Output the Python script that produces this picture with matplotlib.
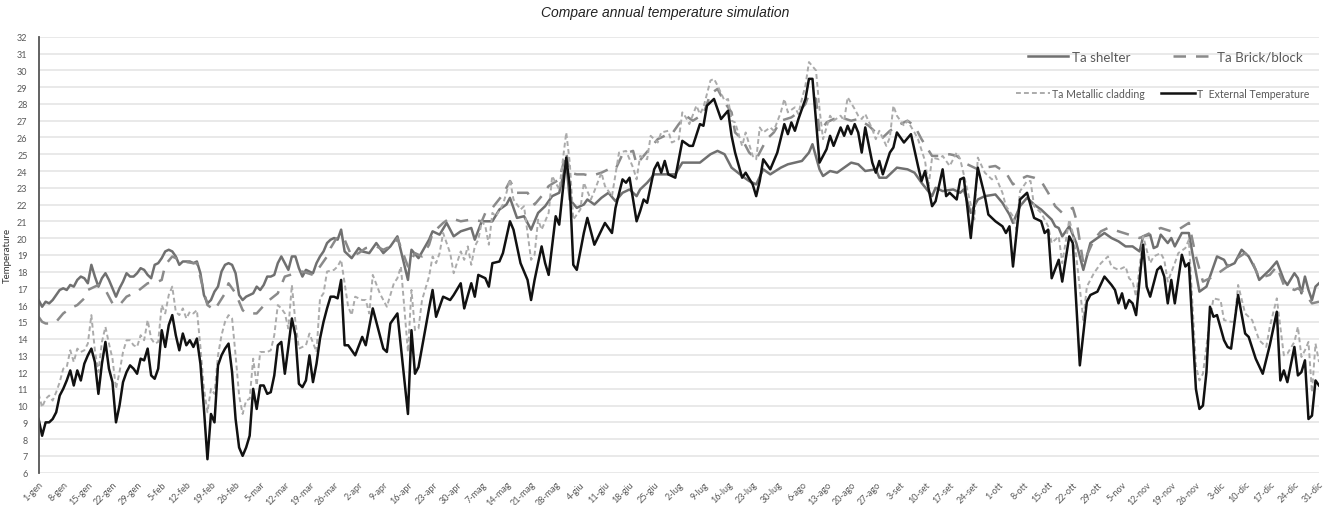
import matplotlib
matplotlib.use("Agg")
import matplotlib.pyplot as plt
from matplotlib.legend import Legend

# ---- data (day of year, 0 = 1 gen) ----
ext_day = [0, 1, 2, 3, 4, 5, 6, 7, 8, 9, 10, 11, 12, 13, 14, 15, 16, 17, 18, 19, 20, 21, 22, 23, 24, 25, 26, 27, 28, 29,
           30, 31, 32, 33, 34, 35, 36, 37, 38, 39, 40, 41, 42, 43, 44, 45, 46, 47, 48, 49, 50, 51, 52, 53, 54, 55, 56, 57, 58, 59,
           60, 61, 62, 63, 64, 65, 66, 67, 68, 69, 70, 71, 72, 73, 74, 75, 76, 77, 78, 79, 80, 81, 82, 83, 84, 85, 86, 87, 88,
           90, 92, 93, 95, 98, 99, 100, 102, 105, 106, 107, 108, 111, 112, 113, 115, 117, 118, 120, 121, 123, 124, 125, 127, 128,
           129, 131, 132, 134, 135, 137, 139, 140, 141, 143, 144, 145, 147, 148, 150, 151, 152, 153, 155, 156, 158, 161, 163, 164,
           166, 167, 168, 170, 171, 172, 173, 175, 176, 177, 178, 179, 181, 183, 185, 186, 188, 189, 190, 192, 194, 196, 197, 198,
           200, 201, 203, 204, 205, 206, 208, 210, 212, 213, 214, 215, 216, 217, 218, 219, 220, 222, 224, 225, 226, 228, 229, 230,
           231, 232, 233, 234, 235, 237, 238, 239, 240, 242, 243, 244, 246, 248, 250, 251, 252, 254, 255, 257, 258, 259, 261, 262,
           263, 264, 265, 267, 269, 270, 272, 274, 275, 276, 277, 279, 281, 283, 285, 286, 287, 288, 290, 291, 293, 294, 296, 298,
           299, 301, 303, 305, 306, 307, 308, 309, 310, 311, 312, 314, 315, 316, 318, 319, 320, 321, 322, 323, 325, 326, 327, 329,
           330, 331, 332, 333, 334, 335, 337, 338, 339, 341, 343, 344, 346, 348, 350, 352, 353, 354, 355, 357, 358, 359, 360, 361,
           362, 363, 364]
ext_val = [9.2, 8.2, 9.0, 9.0, 9.2, 9.6, 10.6, 11.0, 11.5, 12.1, 11.2, 12.1, 11.5, 12.5, 13.0, 13.4, 12.6, 10.7, 12.5, 13.8,
           12.2, 11.4, 9.0, 10.0, 11.4, 12.0, 12.4, 12.2, 11.9, 12.8, 12.7, 13.4, 11.8, 11.6, 12.2, 14.5, 13.5, 14.8, 15.4, 14.2,
           13.3, 14.3, 13.6, 13.9, 13.5, 14.0, 12.5, 9.8, 6.8, 9.5, 9.0, 12.4, 13.0, 13.4, 13.7, 12.0, 9.2, 7.5, 7.0, 7.5,
           8.2, 11.0, 9.8, 11.2, 11.2, 10.7, 10.8, 11.8, 13.6, 13.8, 11.9, 13.5, 15.2, 14.2, 11.3, 11.1, 11.5, 13.0, 11.4, 12.5,
           14.0, 15.0, 15.8, 16.5, 16.5, 16.4, 17.5, 13.6, 13.6,
           13.0, 14.1, 13.6, 15.8, 13.4, 13.2, 14.9, 15.5, 9.5, 14.5, 11.9, 12.3, 15.8, 16.9, 15.3, 16.5, 16.3, 16.6, 17.3, 15.8,
           17.3, 16.5, 17.8, 17.6, 17.1, 18.5, 18.6, 19.1, 21.0, 20.5, 18.5, 17.5, 16.3, 17.5, 19.5, 18.5, 17.8, 21.3, 20.8, 24.8,
           23.1, 18.4, 18.1, 20.3, 21.2, 19.6, 20.9, 20.3, 21.8, 23.5, 23.3, 23.6, 21.0, 21.6, 22.3, 22.1, 24.1, 24.5, 23.9, 24.6,
           23.8, 23.6, 25.8, 25.5, 25.5, 26.8, 26.7, 27.9, 28.3, 27.1, 27.6, 26.1, 25.1, 23.6, 23.9, 23.2, 22.5, 23.4, 24.7, 24.1,
           25.1, 26.8, 26.2, 26.9, 26.4, 27.1, 27.7, 28.3, 29.5, 29.5, 24.5, 25.3, 26.1, 25.5, 26.6, 26.1, 26.7, 26.2, 26.8, 26.3,
           25.1, 26.6, 24.5, 23.9, 24.6, 23.8, 25.1, 25.4, 26.3, 25.7, 26.2, 24.3, 23.4, 24.0, 21.9, 22.2, 24.1, 22.5, 22.7, 22.3,
           23.5, 23.6, 21.9, 20.0, 24.2, 22.5, 21.4, 21.0, 20.7, 20.3, 20.7, 18.3, 22.3, 22.7, 21.2, 21.0, 20.3, 20.5, 17.6, 18.7,
           17.4, 20.1, 19.7, 12.4, 16.2, 16.6, 16.8, 17.7, 17.2, 16.9, 16.1, 16.7, 15.8, 16.3, 16.1, 15.4, 19.6, 17.1, 16.5, 18.1,
           18.3, 17.7, 16.1, 17.5, 16.1, 19.0, 18.3, 18.5, 11.0, 9.8, 10.0, 12.0, 15.9, 15.3, 15.4, 13.9, 13.5, 13.4, 16.6, 14.3,
           14.1, 12.8, 11.9, 13.6, 15.6, 11.5, 12.1, 11.4, 13.5, 11.8, 12.0, 12.7, 9.2, 9.4, 11.5, 11.2]

she_day = [0, 1, 2, 3, 4, 5, 6, 7, 8, 9, 10, 11, 12, 13, 14, 15, 16, 17, 18, 19, 20, 21, 22, 23, 24, 25, 26, 27, 28, 29,
           30, 31, 32, 33, 34, 35, 36, 37, 38, 39, 40, 41, 42, 43, 44, 45, 46, 47, 48, 49, 50, 51, 52, 53, 54, 55, 56, 57, 58, 59,
           60, 61, 62, 63, 64, 65, 66, 67, 68, 69, 70, 71, 72, 73, 74, 75, 76, 77, 78, 79, 80, 81, 82, 83, 84, 85, 86, 87, 88,
           89, 91, 92, 94, 96, 98, 100, 102, 105, 106, 108, 111, 112, 114, 116, 118, 120, 123, 124, 126, 129, 131, 133, 134, 136,
           138, 140, 142, 144, 146, 148, 150, 151, 153, 155, 156, 158, 160, 162, 164, 166, 168, 170, 171, 173, 175, 178, 181, 183,
           186, 188, 191, 193, 195, 197, 200, 202, 204, 206, 208, 211, 213, 215, 217, 219, 220, 222, 223, 225, 227, 229, 231, 233,
           235, 238, 239, 241, 243, 244, 247, 249, 251, 254, 255, 257, 260, 262, 263, 265, 267, 269, 272, 274, 276, 277, 279, 281,
           283, 285, 288, 289, 290, 291, 293, 295, 297, 299, 301, 303, 305, 307, 309, 311, 313, 314, 316, 317, 318, 319, 321, 322,
           323, 325, 327, 328, 330, 332, 335, 337, 338, 340, 342, 344, 346, 347, 350, 352, 354, 355, 357, 358, 359, 360, 361, 362,
           363, 364]
she_val = [16.3, 15.9, 16.2, 16.1, 16.3, 16.6, 16.9, 17.0, 16.9, 17.2, 17.1, 17.5, 17.7, 17.6, 17.3, 18.4, 17.7, 17.1, 17.6, 17.9,
           17.5, 17.0, 16.5, 17.0, 17.4, 17.9, 17.7, 17.7, 17.9, 18.2, 18.1, 17.8, 17.6, 18.4, 18.5, 18.8, 19.2, 19.3, 19.2, 18.9,
           18.4, 18.6, 18.6, 18.6, 18.5, 18.6, 17.9, 16.6, 16.1, 16.3, 16.8, 17.1, 18.0, 18.4, 18.5, 18.4, 17.9, 16.6, 16.3, 16.5,
           16.6, 16.7, 17.1, 16.9, 17.2, 17.7, 17.7, 17.8, 18.5, 18.9, 18.5, 18.1, 18.9, 18.9, 18.2, 17.7, 18.1, 18.0, 17.9, 18.5,
           18.9, 19.2, 19.7, 19.9, 20.0, 19.9, 20.5, 19.2, 19.0,
           18.8, 19.4, 19.2, 19.1, 19.7, 19.1, 19.5, 20.1, 17.5, 19.3, 18.8, 19.9, 20.4, 20.2, 20.9, 20.1, 20.4, 20.6, 19.9, 21.0,
           21.0, 21.7, 22.0, 22.4, 21.2, 21.3, 20.5, 21.5, 21.9, 22.5, 22.7, 24.5, 22.3, 21.8, 22.0, 22.3, 22.0, 22.4, 22.7, 22.2,
           22.7, 22.9, 22.5, 22.9, 23.3, 23.8, 23.8, 23.8, 24.5, 24.5, 24.5, 25.0, 25.2, 25.0, 24.2, 23.7, 23.4, 23.2, 24.1, 23.8,
           24.2, 24.4, 24.5, 24.6, 25.1, 25.6, 24.1, 23.7, 24.0, 23.9, 24.2, 24.5, 24.4, 24.0, 24.1, 23.6, 23.6, 24.0, 24.2, 24.1,
           23.9, 23.3, 22.5, 23.0, 22.8, 22.9, 22.7, 22.9, 21.5, 22.3, 22.5, 22.6, 22.1, 21.4, 20.9, 21.9, 22.4, 22.0, 21.7, 21.1,
           20.7, 20.6, 20.1, 20.7, 19.7, 18.1, 19.7, 20.0, 20.3, 20.0, 19.8, 19.5, 19.5, 19.2, 20.1, 20.2, 19.4, 19.5, 20.2, 19.7,
           20.0, 19.5, 20.3, 20.3, 19.1, 16.8, 17.1, 18.9, 18.7, 18.3, 18.5, 19.3, 18.9, 18.1, 17.5, 18.1, 18.6, 17.5, 17.2, 17.9,
           17.6, 16.7, 17.7, 16.9, 16.3, 17.1, 17.3]

bri_day = [0, 1, 2, 4, 5, 7, 9, 11, 13, 14, 17, 19, 21, 23, 25, 28, 31, 34, 35, 36, 38, 41, 44, 45, 47, 48, 50, 53, 54, 56,
           58, 59, 62, 65, 68, 70, 73, 75, 78, 80, 82, 83, 85, 87, 89, 91, 93, 96, 98, 101, 102, 105, 107, 109, 111, 112, 115, 117,
           120, 123, 126, 127, 129, 132, 134, 136, 139, 141, 143, 145, 148, 150, 151, 153, 155, 157, 160, 162, 164, 166, 169, 170,
           172, 174, 176, 178, 180, 182, 184, 186, 189, 191, 193, 195, 197, 198, 200, 202, 204, 205, 207, 209, 211, 214, 216, 218,
           219, 221, 222, 224, 226, 228, 231, 233, 236, 238, 240, 242, 245, 247, 249, 251, 254, 256, 259, 261, 264, 267, 269, 272,
           275, 277, 279, 281, 283, 285, 287, 289, 291, 294, 295, 297, 300, 302, 304, 307, 310, 313, 314, 317, 319, 322, 324, 327,
           329, 331, 333, 336, 338, 340, 343, 345, 347, 350, 352, 354, 357, 358, 360, 362, 364]
bri_val = [15.3, 15.0, 14.9, 14.9, 15.0, 15.5, 15.8, 16.0, 16.4, 16.9, 17.2, 16.9, 16.1, 16.0, 16.5, 16.8, 17.3, 17.4, 17.5, 18.4,
           18.9, 18.6, 18.5, 18.5, 16.8, 16.0, 15.7, 16.7, 17.3, 16.7, 15.7, 15.5, 15.5, 16.2, 16.7, 17.7, 17.9, 18.0, 17.8, 18.3,
           18.9, 19.4, 20.1, 19.9, 18.9, 19.1, 19.4, 19.5, 19.3, 19.6, 20.0, 18.3, 19.1, 18.9, 19.6, 20.3, 20.9, 21.2, 21.0, 21.1,
           21.0, 21.5, 21.8, 22.6, 23.4, 22.7, 22.7, 22.0, 22.5, 23.1, 23.5, 25.1, 23.9, 23.8, 23.8, 23.7, 23.9, 24.1, 24.1, 25.0,
           25.2, 24.4, 24.9, 25.4, 25.9, 26.1, 26.2, 26.8, 27.3, 27.0, 27.4, 28.6, 28.9, 28.1, 27.5, 26.3, 25.9, 25.1, 24.7, 25.1,
           25.9, 26.3, 27.0, 27.2, 27.5, 28.0, 28.6, 28.3, 26.3, 26.9, 27.1, 27.2, 27.0, 27.1, 26.7, 26.3, 26.0, 26.4, 26.8, 27.0,
           26.7, 25.9, 24.9, 24.9, 25.0, 24.9, 24.4, 24.1, 24.2, 24.3, 23.9, 23.2, 23.5, 23.7, 23.6, 23.4, 22.7, 21.9, 21.5, 21.8,
           21.1, 18.5, 19.9, 20.4, 20.6, 20.4, 20.2, 20.0, 20.1, 20.4, 20.6, 20.4, 20.5, 20.9, 18.9, 17.4, 17.6, 18.0, 18.3, 18.7,
           19.1, 18.6, 17.6, 17.8, 18.3, 17.2, 16.9, 17.0, 16.7, 16.1, 16.2]

met_day = [0, 1, 2, 3, 4, 5, 6, 7, 8, 9, 10, 11, 12, 13, 14, 15, 16, 17, 18, 19, 20, 21, 22, 23, 24, 25, 26, 27, 28, 29,
           30, 31, 32, 33, 34, 35, 36, 37, 38, 39, 40, 41, 42, 43, 44, 45, 46, 47, 48, 49, 50, 51, 52, 53, 54, 55, 56, 57, 58, 59,
           60, 61, 62, 63, 64, 65, 66, 67, 68, 69, 70, 71, 72, 73, 74, 76, 77, 79, 80, 81, 82, 84, 85, 86, 88, 89, 90, 92, 93,
           94, 95, 97, 99, 101, 102, 103, 105, 106, 107, 108, 109, 111, 112, 113, 114, 115, 117, 118, 120, 121, 122, 123, 124, 125,
           126, 127, 128, 129, 130, 132, 133, 134, 135, 137, 138, 139, 140, 141, 142, 143, 145, 146, 148, 150, 151, 152, 154, 155,
           157, 158, 160, 161, 163, 164, 165, 167, 169, 170, 171, 173, 174, 176, 177, 179, 180, 182, 183, 184, 185, 187, 188, 189,
           191, 192, 193, 195, 196, 197, 198, 200, 201, 203, 204, 205, 206, 208, 209, 211, 212, 213, 215, 216, 217, 218, 219, 221,
           222, 223, 225, 226, 228, 229, 230, 232, 233, 234, 235, 237, 238, 239, 241, 242, 243, 244, 246, 247, 249, 250, 252, 253,
           254, 256, 257, 259, 261, 262, 264, 266, 267, 269, 271, 272, 274, 275, 277, 278, 279, 281, 282, 283, 285, 287, 288, 290,
           291, 293, 294, 295, 297, 298, 300, 302, 304, 305, 307, 309, 310, 311, 312, 314, 316, 317, 319, 320, 321, 323, 324, 326,
           327, 329, 330, 331, 333, 334, 336, 337, 339, 340, 341, 343, 345, 347, 349, 350, 352, 354, 355, 357, 358, 359, 360, 361,
           362, 363, 364]
met_val = [10.7, 9.9, 10.4, 10.6, 10.3, 10.8, 11.4, 12.2, 12.3, 13.3, 12.6, 13.4, 13.2, 13.3, 13.7, 15.4, 13.3, 12.0, 13.8, 14.7,
           13.7, 12.8, 11.0, 12.0, 13.2, 13.9, 13.9, 13.6, 13.5, 14.2, 13.9, 15.1, 14.0, 13.7, 13.8, 16.0, 15.5, 16.6, 17.1, 15.6,
           15.4, 15.8, 15.2, 15.6, 15.5, 15.7, 13.5, 11.0, 9.6, 11.0, 10.7, 13.0, 14.2, 15.0, 15.4, 15.2, 13.0, 10.6, 9.5, 10.3,
           10.4, 12.8, 11.2, 13.2, 13.2, 13.2, 13.3, 14.2, 16.0, 15.8, 15.5, 14.6, 17.2, 15.0, 13.4, 13.6, 14.3, 13.2, 16.4, 16.7,
           18.0, 18.1, 18.3, 18.7, 15.9, 15.4, 16.5, 16.3, 16.3,
           15.5, 17.8, 16.7, 15.9, 17.3, 17.6, 18.3, 13.2, 16.9, 14.5, 14.6, 16.3, 17.7, 18.9, 18.5, 19.1, 20.3, 19.1, 17.9, 19.2,
           18.7, 19.5, 18.4, 19.5, 19.9, 21.0, 20.7, 19.6, 21.5, 21.3, 22.0, 22.7, 23.5, 22.3, 21.7, 21.9, 20.3, 18.7, 19.0, 21.1,
           20.5, 21.5, 23.7, 22.9, 26.3, 24.5, 21.1, 21.7, 23.3, 22.3, 22.8, 23.9, 23.1, 22.5, 23.8, 25.1, 25.2, 24.2, 23.5, 24.9,
           24.7, 26.1, 25.7, 26.3, 26.4, 25.7, 25.9, 27.5, 27.2, 26.8, 27.9, 27.4, 27.8, 29.4, 29.5, 29.1, 28.2, 28.3, 27.0, 26.9,
           25.5, 26.3, 24.9, 24.7, 26.6, 26.3, 26.6, 26.4, 27.5, 28.3, 27.5, 27.8, 27.4, 28.3, 29.1, 30.5, 30.0, 27.7, 25.9, 27.3,
           27.0, 27.3, 27.0, 28.4, 27.7, 27.3, 27.1, 27.4, 26.5, 25.9, 26.4, 25.5, 26.0, 27.9, 27.3, 26.7, 27.0, 26.3, 25.9, 24.6,
           23.1, 24.8, 24.7, 24.9, 24.3, 25.1, 24.7, 22.9, 21.1, 24.8, 23.9, 23.5, 23.7, 22.7, 21.9, 21.3, 20.5, 22.8, 23.4, 23.4,
           21.9, 21.5, 20.7, 19.7, 20.1, 18.5, 21.1, 20.3, 18.9, 15.1, 17.1, 17.9, 18.5, 18.9, 18.3, 18.1, 18.3, 17.6, 17.4, 16.5,
           20.1, 18.5, 18.9, 19.1, 18.7, 17.4, 18.5, 19.1, 19.4, 19.9, 12.4, 11.5, 11.9, 15.2, 16.4, 16.3, 15.1, 15.0, 15.0, 17.2,
           15.5, 15.1, 13.9, 13.5, 14.7, 16.4, 13.0, 13.1, 13.8, 14.7, 12.9, 13.3, 13.8, 10.8, 13.7, 12.6]

tick_days = list(range(0, 365, 7))
tick_labels = ["1-gen", "8-gen", "15-gen", "22-gen", "29-gen", "5-feb", "12-feb", "19-feb", "26-feb",
               "5-mar", "12-mar", "19-mar", "26-mar", "2-apr", "9-apr", "16-apr", "23-apr", "30-apr",
               "7-mag", "14-mag", "21-mag", "28-mag", "4-giu", "11-giu", "18-giu", "25-giu",
               "2-lug", "9-lug", "16-lug", "23-lug", "30-lug", "6-ago", "13-ago", "20-ago", "27-ago",
               "3-set", "10-set", "17-set", "24-set", "1-ott", "8-ott", "15-ott", "22-ott", "29-ott",
               "5-nov", "12-nov", "19-nov", "26-nov", "3-dic", "10-dic", "17-dic", "24-dic", "31-dic"]

plt.rcParams['font.family'] = ['Lato', 'DejaVu Sans']

fig = plt.figure(figsize=(13.31, 5.06), dpi=100)
ax = fig.add_axes([0.029, 0.064, 0.962, 0.861])

l_she, = ax.plot(she_day, she_val, color='#707070', lw=1.8, label='Ta shelter')
l_bri, = ax.plot(bri_day, bri_val, color='#8a8a8a', lw=1.8, dashes=(5, 4), label='Ta Brick/block')
l_met, = ax.plot(met_day, met_val, color='#ababab', lw=1.4, dashes=(2.5, 1.6), label='Ta Metallic cladding')
l_ext, = ax.plot(ext_day, ext_val, color='#111111', lw=1.8, label='T  External Temperature')

ax.set_xlim(0, 364)
ax.set_ylim(6, 32)
ax.set_yticks(range(6, 33))
ax.set_xticks(tick_days)
ax.set_xticklabels(tick_labels, rotation=45, ha='right', rotation_mode='anchor',
                   fontsize=6.5, color='#595959')
ax.tick_params(axis='y', labelsize=6.5, colors='#595959', length=0, pad=8)
ax.tick_params(axis='x', length=0, pad=5)
ax.grid(axis='y', color='#e3e3e3', lw=1.1)
ax.set_axisbelow(True)
for s in ['top', 'right', 'bottom']:
    ax.spines[s].set_visible(False)
ax.spines['left'].set_color('#555555')
ax.spines['left'].set_linewidth(1.3)

ax.set_ylabel('Temperature', fontsize=7, color='#333333', labelpad=4)
fig.text(0.5, 0.975, 'Compare annual temperature simulation', ha='center', va='center',
         fontsize=10, style='italic', family='Liberation Sans', color='#222222')

leg1 = ax.legend(handles=[l_she, l_bri], ncol=2, frameon=False, fontsize=9.6,
                 loc='center right', bbox_to_anchor=(0.997, 0.955), handlelength=3.0,
                 columnspacing=3.2, handletextpad=0.3, labelcolor='#595959')
leg2 = Legend(ax, [l_met, l_ext], [l_met.get_label(), l_ext.get_label()], ncol=2, frameon=False,
              fontsize=7.6, loc='center right', bbox_to_anchor=(1.0, 0.87), handlelength=3.2,
              columnspacing=1.6, handletextpad=0.2, labelcolor='#595959')
ax.add_artist(leg2)

fig.savefig('out.png', dpi=100, facecolor='white')
